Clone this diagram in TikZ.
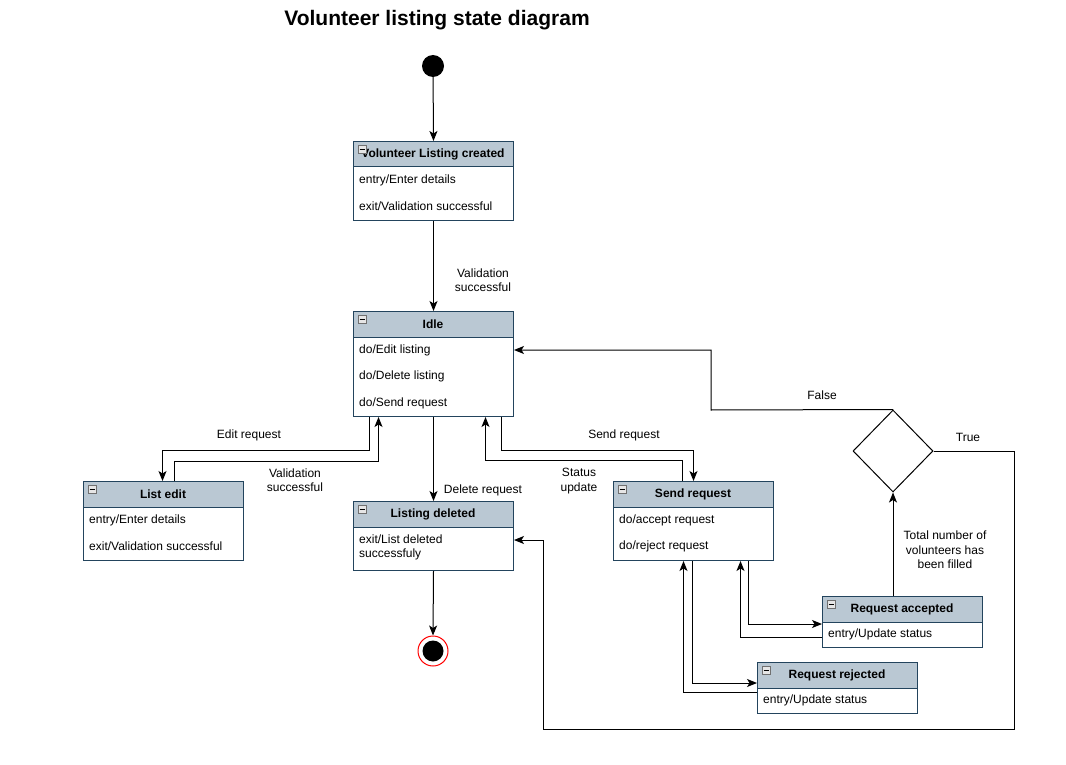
\documentclass[tikz,border=0pt]{standalone}
\usepackage{fontspec}
\setmainfont{Liberation Sans}
\usetikzlibrary{shapes.geometric,arrows.meta,calc}
\definecolor{hdrfill}{HTML}{BAC8D3}
\definecolor{bordc}{HTML}{23445D}
\definecolor{iconfill}{HTML}{E6E6E6}
\definecolor{iconbord}{HTML}{707070}
\tikzset{
  conn/.style={draw=black,line width=1pt,-{Stealth[length=10pt,width=8pt,inset=2.5pt]}},
  plain/.style={draw=black,line width=1pt},
  boxn/.style={draw=bordc,line width=1pt,rectangle,inner sep=0pt},
  ttl/.style={font=\fontsize{12}{14}\selectfont\bfseries,inner sep=0pt},
  txt/.style={font=\fontsize{12}{14}\selectfont,inner sep=0pt,anchor=west},
  lbl/.style={font=\fontsize{12}{14.5}\selectfont,align=center,inner sep=0pt},
}
\newcommand{\stbox}[6]{%
  \fill[hdrfill] (#2,#3) rectangle ++(#4,26);
  \draw[bordc,line width=1pt] (#2,#3+26) -- ++(#4,0);
  \node[boxn,minimum width=#4pt,minimum height=#5pt,anchor=north west] (#1) at (#2,#3) {};
  \node[ttl] at (#2+#4/2,#3+13) {#6};
  \draw[iconbord,fill=iconfill,line width=0.6pt] (#2+5,#3+4) rectangle ++(8,8);
  \draw[black,line width=0.8pt] (#2+6.5,#3+8) -- ++(5,0);
}
\begin{document}
\begin{tikzpicture}[x=1pt,y=-1pt]
\useasboundingbox (0,0) rectangle (1066,765);
\fill[white] (0,0) rectangle (1066,765);

% title
\node[font=\fontsize{21}{25}\selectfont\bfseries,inner sep=0pt] (title) at (437,20) {Volunteer listing state diagram};

% initial and final
\node[circle,fill=black,minimum size=22pt,inner sep=0pt] (init) at (433,66) {};
\node[circle,draw=red,fill=white,line width=1pt,minimum size=30pt,inner sep=0pt] (final) at (433,651) {};
\node[circle,fill=black,minimum size=21pt,inner sep=0pt] (finalin) at (433,651) {};

% states
\stbox{created}{353}{141}{160}{79}{Volunteer Listing created}
\node[txt] (c1) at (359,180) {entry/Enter details};
\node[txt] (c2) at (359,206) {exit/Validation successful};

\stbox{idle}{353}{311}{160}{105}{Idle}
\node[txt] (i1) at (359,350) {do/Edit listing};
\node[txt] (i2) at (359,376) {do/Delete listing};
\node[txt] (i3) at (359,403) {do/Send request};

\stbox{listedit}{83}{481}{160}{79}{List edit}
\node[txt] (l1) at (89,520) {entry/Enter details};
\node[txt] (l2) at (89,546) {exit/Validation successful};

\stbox{deleted}{353}{501}{160}{69}{Listing deleted}
\node[txt,align=left,font=\fontsize{12}{14}\selectfont] (d1) at (359,547) {exit/List deleted\\successfuly};

\stbox{sendreq}{613}{481}{160}{79}{Send request}
\node[txt] (s1) at (619,520) {do/accept request};
\node[txt] (s2) at (619,546) {do/reject request};

\stbox{accepted}{822}{596}{160}{51}{Request accepted}
\node[txt] (a1) at (828,634) {entry/Update status};

\stbox{rejected}{757}{662}{160}{51}{Request rejected}
\node[txt] (r1) at (763,700) {entry/Update status};

\node[diamond,draw=black,line width=1pt,minimum width=80pt,minimum height=82pt,inner sep=0pt] (dec) at (893,451) {};

% connectors
\draw[conn] (init) -- (created.north);
\draw[conn] (created.south) -- (idle.north);
\node[lbl] (lv) at (483,280) {Validation\\successful};

\draw[conn] ([xshift=-64pt]idle.south) -- ++(0,33) -| ([xshift=-1pt]listedit.north);
\node[lbl] (le) at (249,435) {Edit request};
\draw[conn] ([xshift=11pt]listedit.north) -- ++(0,-20) -| ([xshift=-55pt]idle.south);
\node[lbl] (lv2) at (295,480) {Validation\\successful};

\draw[conn] (idle.south) -- (deleted.north);
\node[lbl] (ld) at (483,490) {Delete request};
\draw[conn] (deleted.south) -- (final.north);

\draw[conn] ([xshift=68pt]idle.south) -- ++(0,33) -| (sendreq.north);
\node[lbl] (ls) at (624,435) {Send request};
\draw[conn] ([xshift=-11pt]sendreq.north) -- ++(0,-21) -| ([xshift=52pt]idle.south);
\node[lbl] (lsu) at (579,481) {Status\\update};

\draw[conn] ([xshift=55pt]sendreq.south) |- (accepted.west |- 0,624);
\draw[conn] (accepted.west |- 0,637) -| ([xshift=47pt]sendreq.south);
\draw[conn] ([xshift=-1pt]sendreq.south) |- (rejected.west |- 0,683);
\draw[conn] (rejected.west |- 0,692) -| ([xshift=-10pt]sendreq.south);

\draw[conn] (accepted.north -| dec.south) -- (dec.south);
\node[lbl] (lt) at (945,550) {Total number of\\volunteers has\\been filled};

\coordinate (f1) at (711,410);
\draw[conn] (dec.north) -- (f1) |- (idle.east |- 0,350);
\node[lbl] (lf) at (822,395) {False};

\coordinate (t1) at (1014,729);
\coordinate (t2) at (543,540);
\draw[conn] (dec.east) -| (t1) -| (t2) -- (deleted.east |- t2);
\node[lbl] (ltr) at (968,437) {True};
\end{tikzpicture}
\end{document}
